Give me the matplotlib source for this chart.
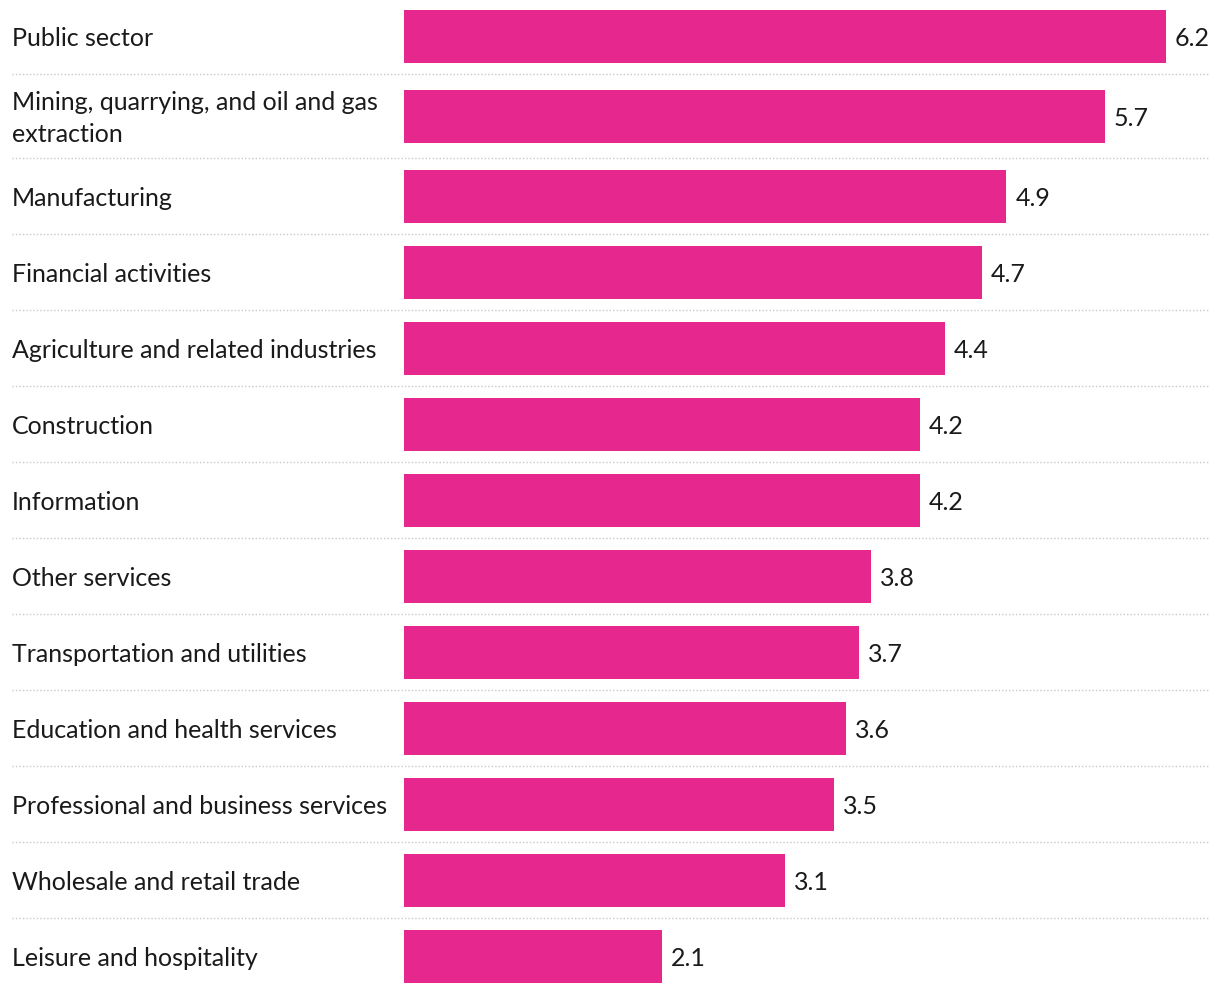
import matplotlib.pyplot as plt
from matplotlib.transforms import blended_transform_factory

sectors = [
    "Public sector",
    "Mining, quarrying, and oil and gas\nextraction",
    "Manufacturing",
    "Financial activities",
    "Agriculture and related industries",
    "Construction",
    "Information",
    "Other services",
    "Transportation and utilities",
    "Education and health services",
    "Professional and business services",
    "Wholesale and retail trade",
    "Leisure and hospitality",
]
values = [6.2, 5.7, 4.9, 4.7, 4.4, 4.2, 4.2, 3.8, 3.7, 3.6, 3.5, 3.1, 2.1]

BAR_COLOR = "#E6288E"
TEXT_COLOR = "#1a1a1a"
W, H = 1220, 996
BAR_LEFT = 404      # px
PX_PER_UNIT = 122.9

plt.rcParams["font.family"] = ["Lato", "DejaVu Sans"]

fig = plt.figure(figsize=(W / 100, H / 100), dpi=100)
ax = fig.add_axes([BAR_LEFT / W, 0, (W - BAR_LEFT) / W, 1])
ax.set_xlim(0, (W - BAR_LEFT) / PX_PER_UNIT)
ax.set_ylim(H, 0)
ax.axis("off")

# row layout in pixels: taller rows for two-line labels
tops, centers = [], []
y = -2
for s in sectors:
    h = 84 if "\n" in s else 76
    tops.append(y)
    centers.append(y + h / 2)
    y += h
bottoms = tops[1:]

ax.barh(centers, values, height=53, color=BAR_COLOR, left=0)

label_tr = blended_transform_factory(fig.transFigure, ax.transData)
for s, c, v in zip(sectors, centers, values):
    ax.text(12 / W, c + 2.5, s, transform=label_tr, ha="left", va="center",
            fontsize=18, color=TEXT_COLOR, linespacing=1.5)
    ax.annotate(f"{v:.1f}", xy=(v, c), xytext=(6.5, -1.8), textcoords="offset points",
                ha="left", va="center", fontsize=18, color=TEXT_COLOR)

for b in bottoms:
    ax.plot([12 / W, 1208 / W], [b, b], transform=label_tr, color="#c8c8c8",
            linestyle=(0, (1, 1.5)), linewidth=1, clip_on=False)

fig.savefig("out.png", dpi=100)
